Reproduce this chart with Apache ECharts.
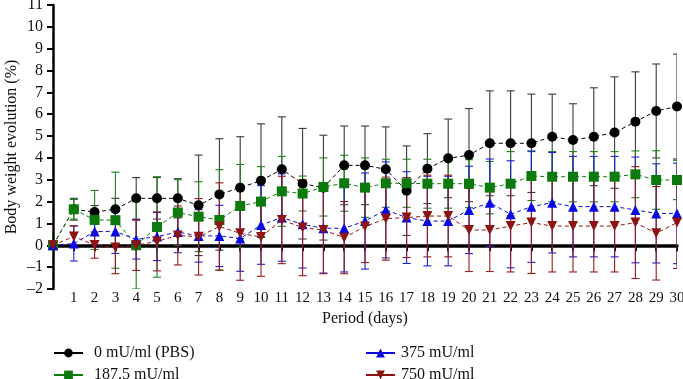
<!DOCTYPE html>
<html><head><meta charset="utf-8">
<script src="https://cdn.jsdelivr.net/npm/echarts@6/dist/echarts.min.js"></script>
<style>html,body{margin:0;padding:0;background:#fff}#c{width:683px;height:379px}</style>
</head><body><div id="c"></div>
<script>
var days = [0,1,2,3,4,5,6,7,8,9,10,11,12,13,14,15,16,17,18,19,20,21,22,23,24,25,26,27,28,29,30];
var seriesNames = ['0 mU/ml (PBS)', '187.5 mU/ml', '375 mU/ml', '750 mU/ml'];
var pbs = [0,1.65,1.52,1.65,2.15,2.15,2.15,1.83,2.33,2.64,2.96,3.48,2.82,2.64,3.66,3.66,3.48,2.5,3.51,3.98,4.13,4.67,4.67,4.67,4.97,4.82,4.97,5.16,5.66,6.15,6.35];
var d187 = [0,1.65,1.16,1.15,0,0.84,1.5,1.31,1.16,1.8,2.0,2.47,2.37,2.67,2.84,2.64,2.84,2.84,2.82,2.82,2.82,2.64,2.82,3.17,3.14,3.14,3.14,3.14,3.25,2.99,2.99];
var d375 = [0,0.08,0.63,0.63,0.27,0.4,0.61,0.43,0.43,0.31,0.93,1.27,0.96,0.78,0.78,1.11,1.62,1.27,1.11,1.11,1.62,1.95,1.42,1.77,1.95,1.77,1.77,1.77,1.62,1.46,1.46];
var d750 = [0,0.4,0.01,-0.1,0,0.18,0.45,0.39,0.86,0.55,0.38,1.16,0.81,0.7,0.35,0.86,1.22,1.27,1.34,1.34,0.7,0.7,0.88,1.04,0.88,0.88,0.88,0.88,1.04,0.55,1.04];
var pbsErr = [0,0.5,0.3,0.5,0.95,0.95,0.9,2.3,2.55,2.33,2.6,2.4,2.53,2.4,1.8,1.8,1.94,2.05,1.6,1.8,2.13,2.4,2.4,2.25,1.95,1.66,2.24,2.55,2.28,2.15,2.4];
var d187Err = [0,0.45,1.35,2.2,2.0,2.3,1.5,1.6,2.3,1.9,1.6,1.6,0.8,1.33,1.28,1.36,1.1,1.1,1.12,1.12,1.1,1.2,1.47,1.12,1.15,1.15,1.15,1.15,1.07,1.34,0.9];
var d375Err = [0,0.8,0.6,1.0,0.9,1.1,0.95,1.2,1.4,1.5,1.8,2.0,2.0,2.05,2.0,2.2,2.2,2.1,2.05,2.05,2.0,2.0,2.45,2.55,2.3,2.3,2.3,2.3,2.42,2.27,2.3];
var d750Err = [0,0.5,0.6,1.2,1.15,1.35,1.35,1.75,2.0,2.15,1.8,2.0,2.2,2.0,1.65,1.65,1.9,1.83,1.87,1.87,1.9,1.9,2.1,2.33,2.1,2.1,2.1,2.1,2.56,2.14,2.1];
var xTickLabels = [1,2,3,4,5,6,7,8,9,10,11,12,13,14,15,16,17,18,19,20,21,22,23,24,25,26,27,28,29,30];

var means = [pbs, d187, d375, d750];
var errs = [pbsErr, d187Err, d375Err, d750Err];
var colors = ['#000000', '#0d7a0d', '#0a0ae0', '#8e1414'];
var errColors = ['#3a3a3a', '#1f7f1f', '#2020d8', '#931c1c'];
var symbols = ['circle', 'rect', 'triangle', 'path://M0,0 L10,0 L5,9 Z'];
var sizes = [10, 10, 10, 10];
var font = '"Liberation Serif", "DejaVu Serif", serif';
var legendPos = [[53, 345, 6], [53, 367, 6], [365, 345, 1], [365, 367, 1]];

function errSeries(i) {
  var data = days.map(function (d, k) { return [d, means[i][k] - errs[i][k], means[i][k] + errs[i][k], errs[i][k]]; });
  return {
    type: 'custom', name: seriesNames[i] + ' err', xAxisIndex: 0, yAxisIndex: 0, silent: true, z: 2 + i,
    clip: true,
    data: data,
    renderItem: function (params, api) {
      if (api.value(3) <= 0) return null;
      var lo = api.coord([api.value(0), api.value(1)]);
      var hi = api.coord([api.value(0), api.value(2)]);
      var hw = 4;
      var st = { stroke: errColors[i], lineWidth: 1.1, fill: null };
      return {
        type: 'group',
        children: [
          { type: 'line', shape: { x1: lo[0], y1: lo[1], x2: hi[0], y2: hi[1] }, style: st },
          { type: 'line', shape: { x1: lo[0] - hw, y1: lo[1], x2: lo[0] + hw, y2: lo[1] }, style: st },
          { type: 'line', shape: { x1: hi[0] - hw, y1: hi[1], x2: hi[0] + hw, y2: hi[1] }, style: st }
        ]
      };
    }
  };
}

var series = [];
for (var i = 0; i < 4; i++) series.push(errSeries(i));
for (var i = 0; i < 4; i++) {
  series.push({
    type: 'line', name: seriesNames[i], xAxisIndex: 0, yAxisIndex: 0, z: 10 + i,
    data: days.map(function (d, k) { return [d, means[i][k]]; }),
    symbol: symbols[i], symbolSize: sizes[i], showSymbol: true,
    itemStyle: { color: colors[i] },
    lineStyle: { color: colors[i], width: 1, type: [4, 3] },
    animation: false
  });
}

var legends = seriesNames.map(function (n, i) {
  return { data: [n], orient: 'horizontal', left: legendPos[i][0], top: legendPos[i][1], padding: 0,
    itemWidth: 29, itemHeight: 11, lineStyle: { type: 'solid' }, selectedMode: false,
    textStyle: { fontFamily: font, fontSize: 16, color: '#111', padding: [0, 0, 0, legendPos[i][2]] } };
});

var chart = echarts.init(document.getElementById('c'));
chart.setOption({
  animation: false,
  backgroundColor: '#fff',
  grid: { left: 53, right: 6, top: 5, bottom: 90, containLabel: false, outerBoundsMode: 'none' },
  legend: legends,
  xAxis: [
    { type: 'value', min: 0, max: 30, interval: 1, position: 'bottom',
      axisLine: { onZero: true, lineStyle: { color: '#000', width: 3.5 } },
      axisTick: { show: true, customValues: xTickLabels, length: 6, lineStyle: { color: '#000', width: 2 } },
      axisLabel: { show: false }, splitLine: { show: false } },
    { type: 'value', min: 0, max: 30, interval: 1, position: 'bottom',
      axisLine: { show: false, onZero: false }, axisTick: { show: false }, splitLine: { show: false },
      axisLabel: { customValues: xTickLabels, margin: 2, fontFamily: font, fontSize: 15, color: '#111' },
      name: 'Period (days)', nameLocation: 'middle', nameGap: 22, nameMoveOverlap: false,
      nameTextStyle: { fontFamily: font, fontSize: 16, color: '#111' } }
  ],
  yAxis: [{
    type: 'value', min: -2, max: 11, interval: 1,
    axisLine: { show: true, onZero: false, lineStyle: { color: '#000', width: 2.5 } },
    axisTick: { show: true, length: 6, lineStyle: { color: '#000', width: 2 } },
    axisLabel: { margin: 10, fontFamily: font, fontSize: 16, color: '#111',
      formatter: function (v) { return v < 0 ? '\u2013' + Math.abs(v) : String(v); } },
    splitLine: { show: false },
    name: 'Body weight evolution (%)', nameLocation: 'middle', nameGap: 33, nameMoveOverlap: false,
    nameTextStyle: { fontFamily: font, fontSize: 16, color: '#111' }
  }],
  series: series
});
</script></body></html>
